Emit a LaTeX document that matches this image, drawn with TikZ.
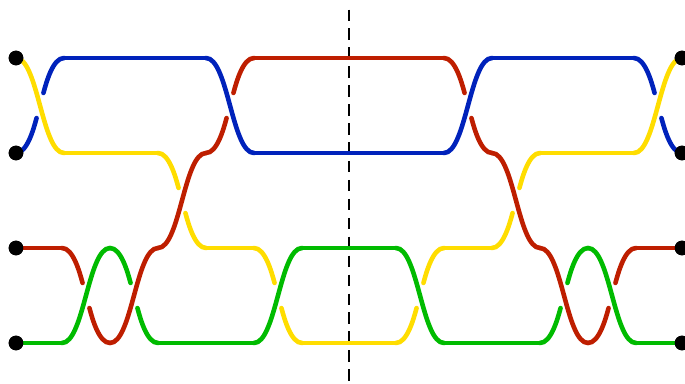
\documentclass[tikz,border=0pt]{standalone}
\usepackage{tikz}

\definecolor{byellow}{RGB}{255,221,0}
\definecolor{bblue}{RGB}{0,34,187}
\definecolor{bred}{RGB}{190,30,0}
\definecolor{bgreen}{RGB}{0,187,0}

% over crossing: one S-curve
\newcommand{\brover}[5]{%
  \draw[strand,#1] (#2,#3) .. controls +(22,0) and +(-22,0) .. (#4,#5);}
% under crossing: two halves, cut at the middle
\newcommand{\brunder}[5]{%
  \draw[strand,#1,gapcut] (#2,#3) .. controls +(11,0) and +(-6.5,{(#3-#5)/4}) .. ({(#2+#4)/2},{(#3+#5)/2});
  \draw[strand,#1,gapcut] (#4,#5) .. controls +(-11,0) and +(6.5,{(#5-#3)/4}) .. ({(#2+#4)/2},{(#3+#5)/2});}

\begin{document}
\begin{tikzpicture}[x=0.75pt,y=0.75pt,yscale=-1,xscale=1,
  strand/.style={line width=3.45pt,line cap=round},
  gapcut/.style={shorten >=9.75pt},
  dot/.style={circle,fill=black,inner sep=0pt,minimum size=11pt},
  axis/.style={line width=1.5pt,dash pattern=on 8.6pt off 5.6pt}]
\useasboundingbox (0,0) rectangle (685,383);

%Dashed Line
\coordinate (axtop) at (349,9.5);
\coordinate (axbot) at (349,383);
\draw[axis] (axtop) -- (axbot);

%Dots
\node[dot] (l1) at (16,58) {};
\node[dot] (l2) at (16,153) {};
\node[dot] (l3) at (16,248) {};
\node[dot] (l4) at (16,343) {};
\node[dot] (r1) at (682,58) {};
\node[dot] (r2) at (682,153) {};
\node[dot] (r3) at (682,248) {};
\node[dot] (r4) at (682,343) {};

%Crossings, left half
\brunder{bblue}{16}{153}{64}{58}
\brover{byellow}{16}{58}{64}{153}
\brunder{bred}{62}{248}{110}{343}
\brover{bgreen}{62}{343}{110}{248}
\brunder{bgreen}{110}{248}{158}{343}
\brover{bred}{110}{343}{158}{248}
\brunder{byellow}{158}{153}{206}{248}
\brover{bred}{158}{248}{206}{153}
\brunder{bred}{206}{153}{254}{58}
\brover{bblue}{206}{58}{254}{153}
\brunder{byellow}{254}{248}{302}{343}
\brover{bgreen}{254}{343}{302}{248}

%Crossings, right half
\brunder{byellow}{396}{343}{444}{248}
\brover{bgreen}{396}{248}{444}{343}
\brunder{bred}{444}{58}{492}{153}
\brover{bblue}{444}{153}{492}{58}
\brunder{byellow}{492}{248}{540}{153}
\brover{bred}{492}{153}{540}{248}
\brunder{bgreen}{540}{343}{588}{248}
\brover{bred}{540}{248}{588}{343}
\brunder{bred}{588}{343}{636}{248}
\brover{bgreen}{588}{248}{636}{343}
\brunder{bblue}{634}{58}{682}{153}
\brover{byellow}{634}{153}{682}{58}

%Straight Lines
\draw[strand,byellow] (64,153) -- (158,153);
\draw[strand,byellow] (206,248) -- (254,248);
\draw[strand,byellow] (302,343) -- (396,343);
\draw[strand,byellow] (444,248) -- (492,248);
\draw[strand,byellow] (540,153) -- (634,153);
\draw[strand,bblue] (64,58) -- (206,58);
\draw[strand,bblue] (254,153) -- (444,153);
\draw[strand,bblue] (492,58) -- (634,58);
\draw[strand,bred] (l3.center) -- (62,248);
\draw[strand,bred] (254,58) -- (444,58);
\draw[strand,bred] (636,248) -- (r3.center);
\draw[strand,bgreen] (l4.center) -- (62,343);
\draw[strand,bgreen] (158,343) -- (254,343);
\draw[strand,bgreen] (302,248) -- (396,248);
\draw[strand,bgreen] (444,343) -- (540,343);
\draw[strand,bgreen] (636,343) -- (r4.center);

%Dots on top
\foreach \d in {l1,l2,l3,l4,r1,r2,r3,r4}
  \fill (\d) circle (5.5pt);

\end{tikzpicture}
\end{document}
